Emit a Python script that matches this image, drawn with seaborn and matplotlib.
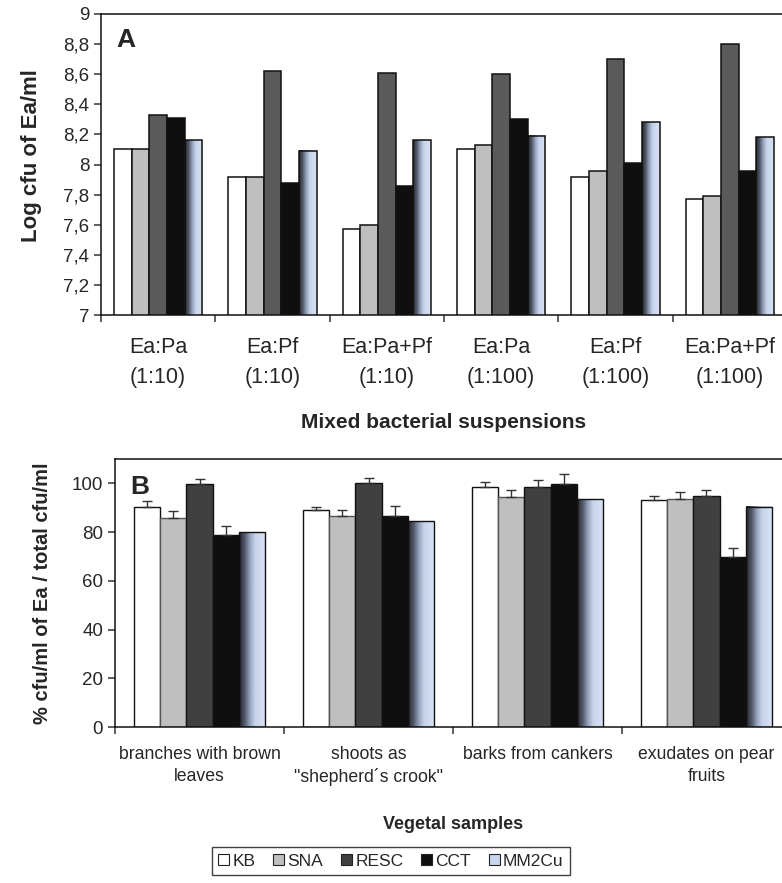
import numpy as np
import pandas as pd
import matplotlib
matplotlib.use("Agg")
import matplotlib.pyplot as plt
import seaborn as sns
from matplotlib.patches import Patch
from matplotlib.colors import LinearSegmentedColormap

# ---------------- data ----------------
media = ["KB", "SNA", "RESC", "CCT", "MM2Cu"]

groups_a = ["Ea:Pa\n(1:10)", "Ea:Pf\n(1:10)", "Ea:Pa+Pf\n(1:10)",
            "Ea:Pa\n(1:100)", "Ea:Pf\n(1:100)", "Ea:Pa+Pf\n(1:100)"]
kb_a = [8.10, 7.92, 7.57, 8.10, 7.92, 7.77]
sna_a = [8.10, 7.92, 7.60, 8.13, 7.96, 7.79]
resc_a = [8.33, 8.62, 8.61, 8.60, 8.70, 8.80]
cct_a = [8.31, 7.88, 7.86, 8.30, 8.01, 7.96]
mm_a = [8.16, 8.09, 8.16, 8.19, 8.28, 8.18]

groups_b = ["branches with brown\nleaves", "shoots as\n\"shepherd\u00b4s crook\"",
            "barks from cankers", "exudates on pear\nfruits"]
kb_b = [90.5, 89.0, 98.7, 93.2]
sna_b = [85.8, 86.5, 94.5, 93.6]
resc_b = [99.8, 100.0, 98.7, 94.9]
cct_b = [79.0, 86.5, 99.6, 69.7]
mm_b = [80.0, 84.5, 93.5, 90.5]
kb_err = [2.1, 1.5, 1.8, 1.7]
sna_err = [2.8, 2.6, 2.7, 2.9]
resc_err = [2.0, 2.3, 2.5, 2.3]
cct_err = [3.6, 4.1, 4.1, 3.9]

yticks_a = [7.0, 7.2, 7.4, 7.6, 7.8, 8.0, 8.2, 8.4, 8.6, 8.8, 9.0]
yticks_b = [0, 20, 40, 60, 80, 100]

# ---------------- style ----------------
sns.set_style("ticks")
plt.rcParams["font.family"] = ["Liberation Sans", "DejaVu Sans"]
plt.rcParams["axes.linewidth"] = 1.1

pal_a = {"KB": "#ffffff", "SNA": "#bfbfbf", "RESC": "#5a5a5a", "CCT": "#0f0f0f", "MM2Cu": "#c8d6ef"}
pal_b = {"KB": "#ffffff", "SNA": "#bfbfbf", "RESC": "#404040", "CCT": "#0f0f0f", "MM2Cu": "#c8d6ef"}
grad = LinearSegmentedColormap.from_list(
    "g", [(0.0, "#26262c"), (0.2, "#4e5666"), (0.4, "#94a1ba"),
          (0.6, "#c6d4ec"), (1.0, "#dae3f4")])


def long_df(groups, series):
    rows = []
    for m, vals in zip(media, series):
        for g, v in zip(groups, vals):
            rows.append({"group": g, "medium": m, "value": v})
    return pd.DataFrame(rows)


def gradient_fill(ax, container):
    g = np.linspace(0, 1, 256).reshape(1, -1)
    for p in container.patches:
        x0 = p.get_x()
        x1 = x0 + p.get_width()
        y0 = p.get_y()
        y1 = y0 + p.get_height()
        ax.imshow(g, cmap=grad, extent=(x0, x1, y0, y1), aspect="auto",
                  origin="lower", zorder=p.get_zorder() - 0.05, interpolation="bilinear")
        p.set_facecolor("none")


def style_cat_axis(ax, n):
    ax.set_xlim(-0.5, n - 0.5)
    ax.set_xticks(np.arange(n))
    ax.set_xticks(np.arange(n + 1) - 0.5, minor=True)
    ax.tick_params(axis="x", which="minor", length=5, width=1.1, direction="out", color="#333333")
    ax.tick_params(axis="y", which="major", length=5, width=1.1, direction="out", color="#333333")
    for s in ax.spines.values():
        s.set_visible(True)
        s.set_color("#111111")


fig = plt.figure(figsize=(7.82, 8.83), dpi=100)

# ---------------- panel A ----------------
axA = fig.add_axes([101 / 782, 1 - 315 / 883, 686 / 782, 301 / 883])
dfa = long_df(groups_a, [kb_a, sna_a, resc_a, cct_a, mm_a])
sns.barplot(data=dfa, x="group", y="value", hue="medium", hue_order=media,
            order=groups_a, palette=pal_a, width=0.77, errorbar=None,
            edgecolor="#111111", linewidth=1.1, legend=False, ax=axA)
gradient_fill(axA, axA.containers[4])
axA.set_ylim(7, 9)
axA.set_yticks(yticks_a)
axA.set_yticklabels([("%g" % t).replace(".", ",") for t in yticks_a], fontsize=13.5)
style_cat_axis(axA, len(groups_a))
axA.tick_params(axis="x", which="major", length=0, pad=16)
axA.set_xticklabels(groups_a, fontsize=15.5, linespacing=1.55)
axA.set_xlabel("Mixed bacterial suspensions", fontsize=15, fontweight="bold", labelpad=18)
axA.set_ylabel("Log cfu of Ea/ml", fontsize=16, fontweight="bold", labelpad=15, y=0.53)
axA.text(0.022, 0.955, "A", transform=axA.transAxes, fontsize=19, fontweight="heavy",
         va="top", ha="left")

# ---------------- panel B ----------------
axB = fig.add_axes([115 / 782, 1 - 727 / 883, 676 / 782, 268 / 883])
dfb = long_df(groups_b, [kb_b, sna_b, resc_b, cct_b, mm_b])
sns.barplot(data=dfb, x="group", y="value", hue="medium", hue_order=media,
            order=groups_b, palette=pal_b, width=0.77, errorbar=None,
            edgecolor="#111111", linewidth=1.0, legend=False, ax=axB)
for p in axB.containers[1].patches:
    p.set_edgecolor("#555555")
gradient_fill(axB, axB.containers[4])
for cont, vals, errs in zip(axB.containers[:4], [kb_b, sna_b, resc_b, cct_b],
                            [kb_err, sna_err, resc_err, cct_err]):
    xs = [p.get_x() + p.get_width() / 2 for p in cont.patches]
    axB.errorbar(xs, vals, yerr=[np.zeros(len(errs)), errs], fmt="none",
                 ecolor="#333333", elinewidth=1.0, capsize=3.5, capthick=1.0, zorder=3)
axB.set_ylim(0, 110)
axB.set_yticks(yticks_b)
axB.set_yticklabels([str(t) for t in yticks_b], fontsize=13.5)
style_cat_axis(axB, len(groups_b))
axB.tick_params(axis="x", which="major", length=0, pad=13.5)
axB.set_xticklabels(groups_b, fontsize=12.7, linespacing=1.38)
axB.set_xlabel("Vegetal samples", fontsize=13, fontweight="bold", labelpad=21.5)
axB.set_ylabel("% cfu/ml of Ea / total cfu/ml", fontsize=14.5, fontweight="bold", labelpad=14)
axB.text(0.022, 0.94, "B", transform=axB.transAxes, fontsize=19, fontweight="heavy",
         va="top", ha="left")

# ---------------- legend ----------------
handles = [Patch(facecolor=pal_b[m], edgecolor="#222222", linewidth=0.8, label=m) for m in media]
leg = fig.legend(handles=handles, loc="center", bbox_to_anchor=(391 / 782, 1 - 861 / 883),
                 ncol=5, frameon=True, fontsize=12.5, handlelength=0.6, handleheight=0.6,
                 handletextpad=0.2, columnspacing=1.05, borderpad=0.35, fancybox=False)
leg.get_frame().set_edgecolor("#111111")
leg.get_frame().set_linewidth(1.0)

fig.savefig("out.png", dpi=100, facecolor="white")
